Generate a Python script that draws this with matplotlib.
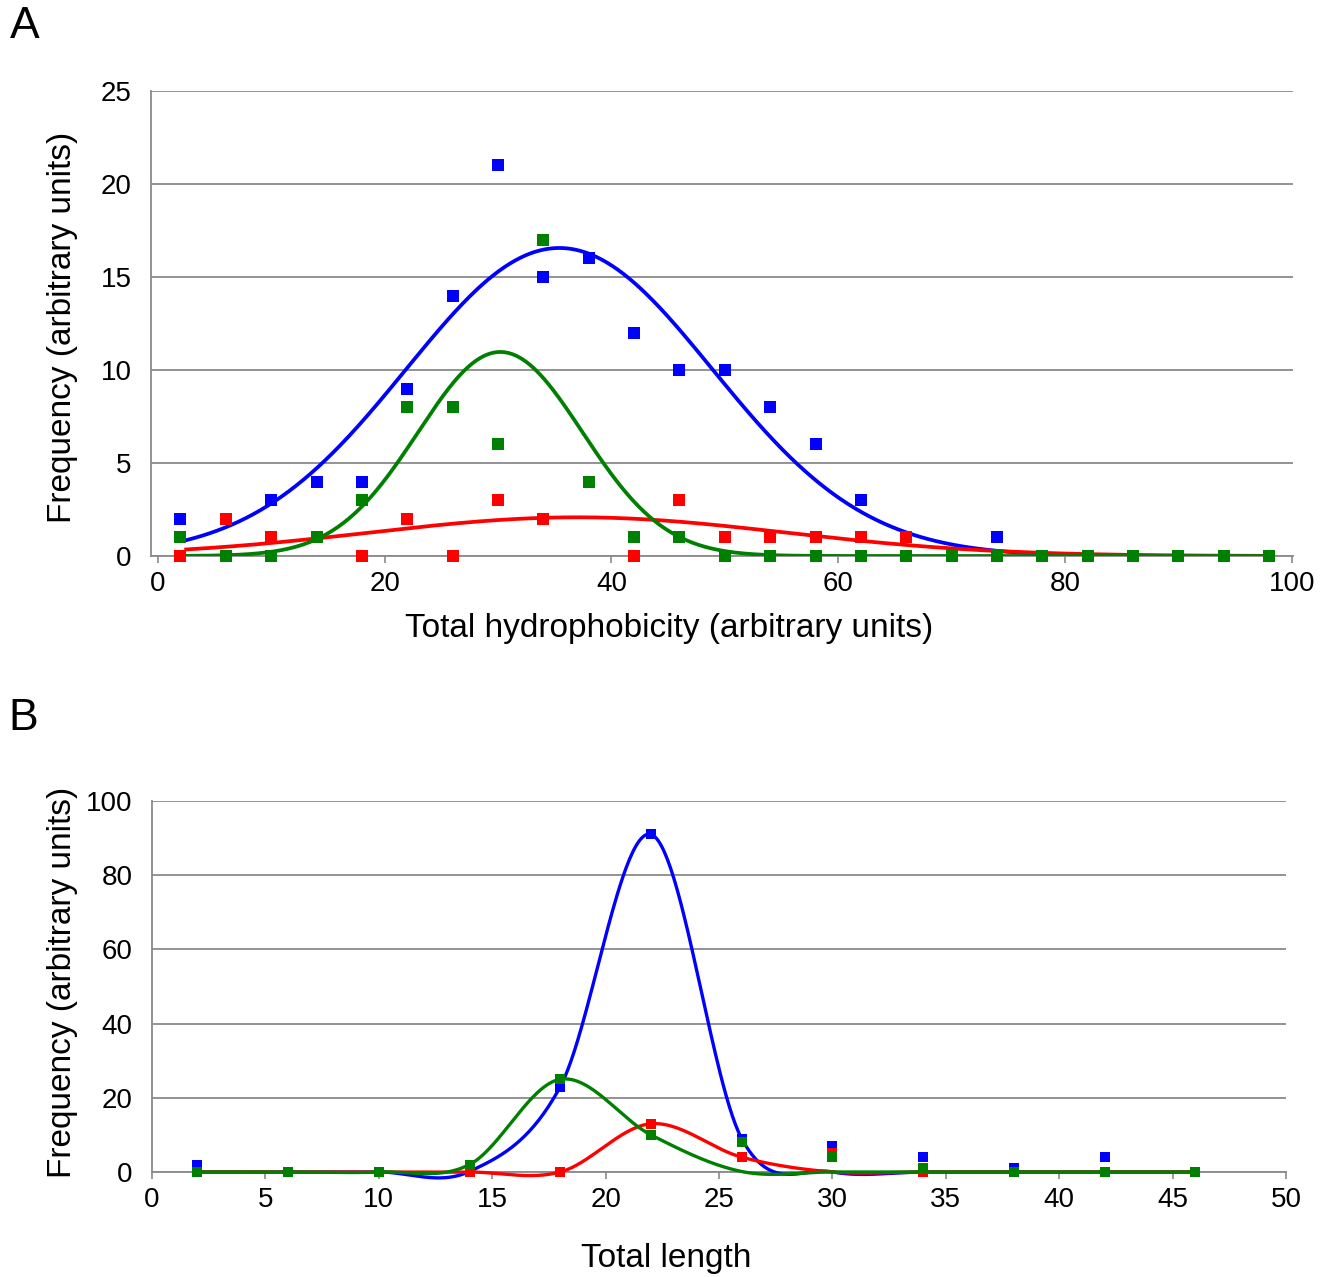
import numpy as np
import matplotlib
matplotlib.use("Agg")
import matplotlib.pyplot as plt

plt.rcParams['font.family'] = ['Liberation Sans', 'DejaVu Sans']

# ---------------- Panel A data ----------------
hydro_x = [2, 6, 10, 14, 18, 22, 26, 30, 34, 38, 42, 46, 50, 54, 58, 62, 66, 70, 74, 78, 82, 86, 90, 94, 98]
hydro_blue = [2, 2, 3, 4, 4, 9, 14, 21, 15, 16, 12, 10, 10, 8, 6, 3, 1, 0, 1, 0, 0, 0, 0, 0, 0]
hydro_red = [0, 2, 1, 1, 0, 2, 0, 3, 2, 4, 0, 3, 1, 1, 1, 1, 1, 0, 0, 0, 0, 0, 0, 0, 0]
hydro_green = [1, 0, 0, 1, 3, 8, 8, 6, 17, 4, 1, 1, 0, 0, 0, 0, 0, 0, 0, 0, 0, 0, 0, 0, 0]

# Gaussian fit parameters (amplitude, centre, sigma)
fit_blue = (16.56, 35.4, 13.5)
fit_red = (2.08, 37.0, 18.3)
fit_green = (10.97, 30.2, 7.25)

# ---------------- Panel B data ----------------
length_x = [2, 6, 10, 14, 18, 22, 26, 30, 34, 38, 42, 46]
length_blue = [2, 0, 0, 0, 23, 91, 9, 7, 4, 1, 4, 0]
length_red = [0, 0, 0, 0, 0, 13, 4, 5, 0, 0, 0, 0]
length_green = [0, 0, 0, 2, 25, 10, 8, 4, 1, 0, 0, 0]
# model (smoothed-line) values at the same x positions
model_blue = [0, 0, 0, 0.14, 23, 91, 9, 0.02, 0, 0, 0, 0]
model_red = [0, 0, 0, 0, 0, 13, 4, 0, 0, 0, 0, 0]
model_green = [0, 0, 0, 2, 25, 10, 0.13, 0, 0, 0, 0, 0]

BLUE = '#0000FF'
RED = '#FF0000'
GREEN = '#008000'
GRID = '#8a8a8a'


def gauss(x, a, m, s):
    return a * np.exp(-(x - m) ** 2 / (2 * s ** 2))


def smooth(xs, ys, n=60):
    """Excel-style smoothed line (Catmull-Rom through the points)."""
    xs = np.asarray(xs, float)
    ys = np.asarray(ys, float)
    px = np.concatenate([[xs[0]], xs, [xs[-1]]])
    py = np.concatenate([[ys[0]], ys, [ys[-1]]])
    outx, outy = [], []
    for i in range(1, len(px) - 2):
        p0x, p1x, p2x, p3x = px[i - 1], px[i], px[i + 1], px[i + 2]
        p0y, p1y, p2y, p3y = py[i - 1], py[i], py[i + 1], py[i + 2]
        c1x = p1x + (p2x - p0x) / 6
        c1y = p1y + (p2y - p0y) / 6
        c2x = p2x - (p3x - p1x) / 6
        c2y = p2y - (p3y - p1y) / 6
        t = np.linspace(0, 1, n)
        bx = (1 - t) ** 3 * p1x + 3 * (1 - t) ** 2 * t * c1x + 3 * (1 - t) * t ** 2 * c2x + t ** 3 * p2x
        by = (1 - t) ** 3 * p1y + 3 * (1 - t) ** 2 * t * c1y + 3 * (1 - t) * t ** 2 * c2y + t ** 3 * p2y
        outx.append(bx)
        outy.append(by)
    return np.concatenate(outx), np.concatenate(outy)


W, H = 1326, 1277
fig = plt.figure(figsize=(W / 100, H / 100), dpi=100)

TICK_FS = 20
LABEL_FS = 24


def style_axes(ax):
    for side in ['top', 'right']:
        ax.spines[side].set_visible(False)
    for side in ['left', 'bottom']:
        ax.spines[side].set_color(GRID)
        ax.spines[side].set_linewidth(1.3)
    ax.yaxis.grid(True, color=GRID, linewidth=1.3)
    ax.set_axisbelow(True)
    ax.tick_params(axis='x', direction='out', length=5, width=1.2, color=GRID,
                   labelsize=TICK_FS, pad=6)
    ax.tick_params(axis='y', length=0, labelsize=TICK_FS, pad=14)


# ---------------- Panel A ----------------
axA = fig.add_axes([151 / W, 1 - 556 / H, (1293 - 151) / W, (556 - 91) / H])
style_axes(axA)
xx = np.linspace(2.5, 98, 600)
axA.plot(xx, gauss(xx, *fit_blue), color=BLUE, lw=2.7, zorder=3)
axA.plot(xx, gauss(xx, *fit_red), color=RED, lw=2.7, zorder=3)
axA.plot(xx, gauss(xx, *fit_green), color=GREEN, lw=2.7, zorder=3)
for ys, c in [(hydro_blue, BLUE), (hydro_red, RED), (hydro_green, GREEN)]:
    axA.plot(hydro_x, ys, linestyle='none', marker='s', ms=9.3, color=c,
             markeredgewidth=0, clip_on=False, zorder=4)
axA.set_xlim(-0.6, 100.1)
axA.set_ylim(0, 25)
axA.set_xticks([0, 20, 40, 60, 80, 100])
axA.set_yticks([0, 5, 10, 15, 20, 25])
axA.set_xlabel('Total hydrophobicity (arbitrary units)', fontsize=LABEL_FS, va='center')
axA.xaxis.set_label_coords((669 - 151) / 1142, (556 - 628) / 465)
axA.set_ylabel('Frequency (arbitrary units)', fontsize=LABEL_FS, va='center')
axA.yaxis.set_label_coords((63 - 151) / 1142, (556 - 327) / 465)

# ---------------- Panel B ----------------
axB = fig.add_axes([152 / W, 1 - 1172 / H, (1286 - 152) / W, (1172 - 801) / H])
style_axes(axB)
for ys, c in [(model_blue, BLUE), (model_red, RED), (model_green, GREEN)]:
    sx, sy = smooth(length_x, ys)
    axB.plot(sx, sy, color=c, lw=2.4, clip_on=False, zorder=3)
for ys, c in [(length_blue, BLUE), (length_red, RED), (length_green, GREEN)]:
    axB.plot(length_x, ys, linestyle='none', marker='s', ms=7.8, color=c,
             markeredgewidth=0, clip_on=False, zorder=4)
axB.set_xlim(0, 50)
axB.set_ylim(0, 100)
axB.set_xticks(list(range(0, 51, 5)))
axB.set_yticks([0, 20, 40, 60, 80, 100])
axB.set_xlabel('Total length', fontsize=LABEL_FS, va='center')
axB.xaxis.set_label_coords((666 - 152) / 1134, (1172 - 1258) / 371)
axB.set_ylabel('Frequency (arbitrary units)', fontsize=LABEL_FS, va='center')
axB.yaxis.set_label_coords((63 - 152) / 1134, (1172 - 982) / 371)

fig.text(10 / W, 1 - 26 / H, 'A', fontsize=32, va='center', ha='left')
fig.text(8 / W, 1 - 719 / H, 'B', fontsize=32, va='center', ha='left')

fig.savefig('out.png', dpi=100, facecolor='white')
